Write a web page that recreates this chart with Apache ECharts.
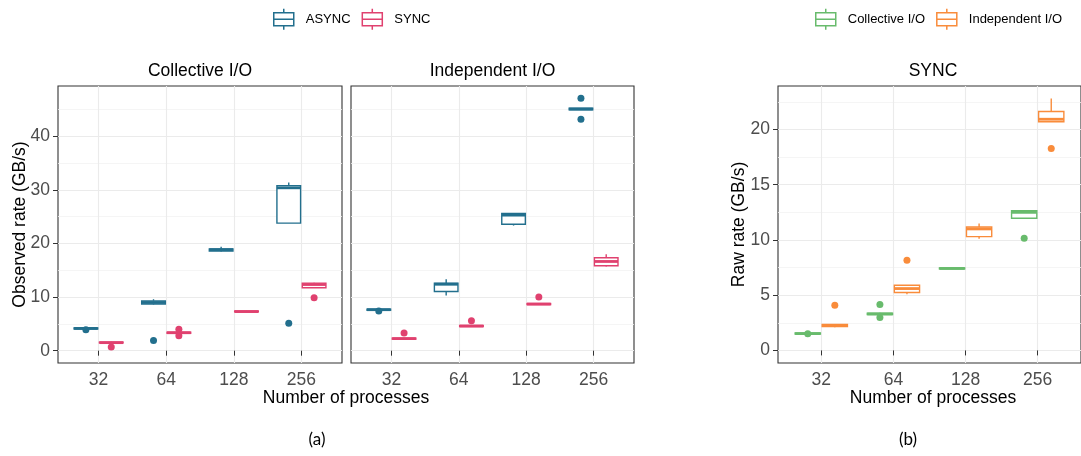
<!DOCTYPE html>
<html>
<head>
<meta charset="utf-8">
<script src="https://cdn.jsdelivr.net/npm/echarts@6/dist/echarts.min.js"></script>
<style>
  html, body { margin: 0; padding: 0; background: #ffffff; }
  #chart { width: 1081px; height: 456px; }
</style>
</head>
<body>
<div id="chart"></div>
<script>
// Process counts on the x axis
const categories = ['32', '64', '128', '256'];

// Box summaries per process count: [lower whisker, Q1, median, Q3, upper whisker]
// (a) Collective I/O
const collectiveAsync = [
  [4.0, 4.05, 4.15, 4.25, 4.3],
  [8.6, 8.7, 9.0, 9.3, 9.6],
  [18.5, 18.6, 18.85, 19.0, 19.4],
  [23.8, 23.8, 30.4, 30.8, 31.4]
];
const collectiveSync = [
  [1.4, 1.45, 1.5, 1.6, 1.65],
  [3.2, 3.25, 3.35, 3.45, 3.5],
  [7.2, 7.25, 7.3, 7.4, 7.45],
  [11.75, 11.75, 12.35, 12.6, 12.7]
];
// (a) Independent I/O
const independentAsync = [
  [7.5, 7.55, 7.65, 7.75, 7.8],
  [10.3, 11.05, 12.4, 12.6, 13.35],
  [23.35, 23.6, 25.3, 25.6, 25.6],
  [44.9, 44.95, 45.1, 45.25, 45.3]
];
const independentSync = [
  [2.1, 2.15, 2.25, 2.35, 2.4],
  [4.45, 4.5, 4.6, 4.7, 4.75],
  [8.55, 8.6, 8.7, 8.8, 8.85],
  [15.7, 15.85, 16.65, 17.35, 18.0]
];
// (b) SYNC raw rate
const rawCollective = [
  [1.45, 1.48, 1.52, 1.58, 1.6],
  [3.2, 3.25, 3.3, 3.38, 3.4],
  [7.35, 7.38, 7.42, 7.47, 7.5],
  [11.9, 11.96, 12.5, 12.65, 12.65]
];
const rawIndependent = [
  [2.1, 2.15, 2.25, 2.35, 2.4],
  [5.09, 5.24, 5.6, 5.9, 5.9],
  [10.1, 10.3, 11.0, 11.17, 11.5],
  [20.7, 20.7, 20.93, 21.63, 22.8]
];

// Outliers: [category index, value]
const collectiveAsyncOut = [[0, 3.9], [1, 1.9], [3, 5.1]];
const collectiveSyncOut = [[0, 0.7], [1, 4.0], [1, 2.8], [3, 9.9]];
const independentAsyncOut = [[0, 7.4], [3, 47.1], [3, 43.2]];
const independentSyncOut = [[0, 3.3], [1, 5.6], [2, 10.0]];
const rawCollectiveOut = [[0, 1.5], [1, 4.16], [1, 2.98], [3, 10.15]];
const rawIndependentOut = [[0, 4.1], [1, 8.16], [3, 18.28]];

// Tick values
const leftMajorTicks = [0, 10, 20, 30, 40];
const leftMinorTicks = [5, 15, 25, 35, 45];
const rightMajorTicks = [0, 5, 10, 15, 20];
const rightMinorTicks = [2.5, 7.5, 12.5, 17.5, 22.5];

const COLORS = {
  async: '#226f8d',
  sync: '#e0416f',
  coll: '#68bb6c',
  indep: '#f98c3b'
};

const FONT = 'Liberation Sans';
const DODGE = 0.1875;
const BOX_W = 0.35;
const catPos = [1, 2, 3, 4];

function boxData(rows, shift) {
  return rows.map((r, i) => [catPos[i] + shift].concat(r));
}
function outData(rows, shift) {
  return rows.map(r => [catPos[r[0]] + shift, r[1]]);
}

function boxRender(color) {
  return function (params, api) {
    const x = api.value(0);
    const lo = api.coord([x, api.value(1)]);
    const q1 = api.coord([x, api.value(2)]);
    const med = api.coord([x, api.value(3)]);
    const q3 = api.coord([x, api.value(4)]);
    const hi = api.coord([x, api.value(5)]);
    const w = api.size([BOX_W, 0])[0];
    const cx = lo[0];
    const left = cx - w / 2;
    const lw = 1.4;
    return {
      type: 'group',
      children: [
        { type: 'line', shape: { x1: cx, y1: hi[1], x2: cx, y2: q3[1] }, style: { stroke: color, lineWidth: lw } },
        { type: 'line', shape: { x1: cx, y1: q1[1], x2: cx, y2: lo[1] }, style: { stroke: color, lineWidth: lw } },
        { type: 'rect', shape: { x: left, y: q3[1], width: w, height: q1[1] - q3[1] }, style: { fill: '#ffffff', stroke: color, lineWidth: lw } },
        { type: 'line', shape: { x1: left, y1: med[1], x2: left + w, y2: med[1] }, style: { stroke: color, lineWidth: 2.8 } }
      ]
    };
  };
}

function boxSeries(name, rows, shift, color, idx) {
  return {
    name: name,
    type: 'custom',
    xAxisIndex: idx,
    yAxisIndex: idx * 2,
    itemStyle: { color: color },
    renderItem: boxRender(color),
    encode: { x: 0, y: [1, 2, 3, 4, 5] },
    data: boxData(rows, shift),
    z: 3
  };
}
function outlierSeries(name, rows, shift, color, idx) {
  return {
    name: name,
    type: 'scatter',
    xAxisIndex: idx,
    yAxisIndex: idx * 2,
    symbol: 'circle',
    symbolSize: 7,
    itemStyle: { color: color, opacity: 1 },
    data: outData(rows, shift),
    z: 4
  };
}

const gridLine = { color: '#ebebeb', width: 1.1 };
const gridMinor = { color: '#f2f2f2', width: 0.8 };

function xAxis(gridIndex) {
  return {
    type: 'value', gridIndex: gridIndex, min: 0.4, max: 4.6,
    axisLine: { show: false },
    axisTick: { show: true, length: 5, customValues: catPos, lineStyle: { color: '#333333', width: 1 } },
    axisLabel: {
      show: true, customValues: catPos, margin: 8,
      color: '#4d4d4d', fontFamily: FONT, fontSize: 17.5,
      formatter: v => categories[Math.round(v) - 1]
    },
    splitLine: { show: true, lineStyle: gridLine }
  };
}
function yAxes(gridIndex, min, max, major, minor, showLabels) {
  return [
    {
      type: 'value', gridIndex: gridIndex, min: min, max: max,
      axisLine: { show: false },
      axisTick: { show: showLabels, length: 5, customValues: major, lineStyle: { color: '#333333', width: 1 } },
      axisLabel: { show: showLabels, customValues: major, margin: 8, color: '#4d4d4d', fontFamily: FONT, fontSize: 17.5 },
      splitLine: { show: true, lineStyle: gridLine }
    },
    {
      type: 'value', gridIndex: gridIndex, min: min, max: max,
      axisLine: { show: false },
      axisTick: { show: false, customValues: minor },
      axisLabel: { show: false, customValues: minor },
      splitLine: { show: true, lineStyle: gridMinor }
    }
  ];
}

const legendIcon = 'path://M10,0 L10,4 M0,4 L20,4 L20,17 L0,17 Z M0,10.5 L20,10.5 M10,17 L10,21';
function legendItem(name, color) {
  return { name: name, icon: legendIcon, itemStyle: { color: '#ffffff', borderColor: color, borderWidth: 1.5 } };
}

function label(text, x, y, size, rotate, family) {
  return {
    type: 'text', x: x, y: y, rotation: rotate ? Math.PI / 2 : 0,
    style: {
      text: text, fill: '#000000', font: size + 'px "' + (family || FONT) + '"',
      textAlign: 'center', textVerticalAlign: 'middle'
    }
  };
}

const panelTop = 86, panelH = 277;
const chart = echarts.init(document.getElementById('chart'), null, { renderer: 'canvas' });

chart.setOption({
  animation: false,
  backgroundColor: '#ffffff',
  grid: [
    { left: 58, top: panelTop, width: 284, height: panelH, show: true, borderColor: '#333333', borderWidth: 1.1, backgroundColor: 'transparent' },
    { left: 351, top: panelTop, width: 283, height: panelH, show: true, borderColor: '#333333', borderWidth: 1.1, backgroundColor: 'transparent' },
    { left: 778, top: panelTop, width: 310, height: panelH, show: true, borderColor: '#333333', borderWidth: 1.1, backgroundColor: 'transparent' }
  ],
  xAxis: [xAxis(0), xAxis(1), xAxis(2)],
  yAxis: [].concat(
    yAxes(0, -2.3, 49.4, leftMajorTicks, leftMinorTicks, true),
    yAxes(1, -2.3, 49.4, leftMajorTicks, leftMinorTicks, false),
    yAxes(2, -1.14, 23.94, rightMajorTicks, rightMinorTicks, true)
  ),
  legend: [
    {
      left: 273, top: 8, padding: 0, itemGap: 11, itemWidth: 20, itemHeight: 21,
      textStyle: { fontFamily: FONT, fontSize: 13, color: '#000000', padding: [0, 0, 0, 7] },
      data: [legendItem('ASYNC', COLORS.async), legendItem('SYNC', COLORS.sync)],
      selectedMode: false
    },
    {
      left: 815, top: 8, padding: 0, itemGap: 11, itemWidth: 20, itemHeight: 21,
      textStyle: { fontFamily: FONT, fontSize: 13, color: '#000000', padding: [0, 0, 0, 7] },
      data: [legendItem('Collective I/O', COLORS.coll), legendItem('Independent I/O', COLORS.indep)],
      selectedMode: false
    }
  ],
  graphic: [
    label('Collective I/O', 200, 71.5, 17.5),
    label('Independent I/O', 492.5, 71.5, 17.5),
    label('SYNC', 933, 71.5, 17.5),
    label('Number of processes', 346, 398.5, 17.5),
    label('Number of processes', 933, 398.5, 17.5),
    label('Observed rate (GB/s)', 20, 224.5, 17.5, true),
    label('Raw rate (GB/s)', 739.5, 224.5, 17.5, true),
    label('(a)', 317, 440, 17, false, 'Lato'),
    label('(b)', 908, 440, 17, false, 'Lato')
  ],
  series: [
    boxSeries('ASYNC', collectiveAsync, -DODGE, COLORS.async, 0),
    boxSeries('SYNC', collectiveSync, DODGE, COLORS.sync, 0),
    outlierSeries('ASYNC', collectiveAsyncOut, -DODGE, COLORS.async, 0),
    outlierSeries('SYNC', collectiveSyncOut, DODGE, COLORS.sync, 0),
    boxSeries('ASYNC', independentAsync, -DODGE, COLORS.async, 1),
    boxSeries('SYNC', independentSync, DODGE, COLORS.sync, 1),
    outlierSeries('ASYNC', independentAsyncOut, -DODGE, COLORS.async, 1),
    outlierSeries('SYNC', independentSyncOut, DODGE, COLORS.sync, 1),
    boxSeries('Collective I/O', rawCollective, -DODGE, COLORS.coll, 2),
    boxSeries('Independent I/O', rawIndependent, DODGE, COLORS.indep, 2),
    outlierSeries('Collective I/O', rawCollectiveOut, -DODGE, COLORS.coll, 2),
    outlierSeries('Independent I/O', rawIndependentOut, DODGE, COLORS.indep, 2)
  ]
});
</script>
</body>
</html>
